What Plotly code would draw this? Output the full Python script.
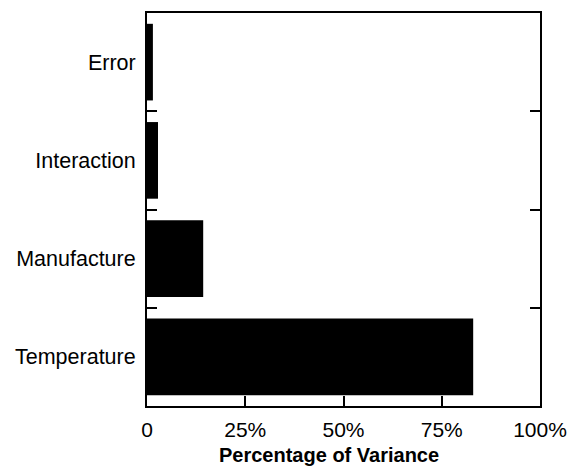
import plotly.graph_objects as go

categories = ["Temperature", "Manufacture", "Interaction", "Error"]
values = [83, 14.3, 2.8, 1.5]
x_tick_vals = [0, 25, 50, 75, 100]
x_tick_text = ["0", "25%", "50%", "75%", "100%"]
x_title = "Percentage of Variance"

fig = go.Figure(go.Bar(
    x=values, y=categories, orientation="h",
    marker=dict(color="black", line=dict(width=0)),
    width=0.78,
))

font_family = "Liberation Sans, Arial, sans-serif"
fig.update_layout(
    width=567, height=466,
    margin=dict(l=147, r=27, t=13, b=60),
    paper_bgcolor="white", plot_bgcolor="white",
    showlegend=False,
    font=dict(family=font_family, size=21, color="black"),
    xaxis=dict(
        range=[0, 100], tickvals=x_tick_vals, ticktext=x_tick_text,
        ticks="inside", ticklen=10, tickwidth=2, tickcolor="black",
        showline=True, linewidth=2, linecolor="black", mirror=True,
        showgrid=False, zeroline=False, automargin=False,
        tickfont=dict(size=21),
        ticklabelstandoff=4,
    ),
    yaxis=dict(
        categoryorder="array", categoryarray=categories,
        range=[-0.5, 3.5],
        ticks="inside", ticklen=10, tickwidth=2, tickcolor="black",
        tickson="boundaries",
        showline=True, linewidth=2, linecolor="black", mirror="ticks",
        showgrid=False, zeroline=False, automargin=False,
        tickfont=dict(size=21.5),
        ticklabelstandoff=5,
    ),
    annotations=[dict(
        text="<b>" + x_title + "</b>", xref="paper", yref="paper",
        x=0.464, y=-0.125, xanchor="center", yanchor="middle",
        showarrow=False, font=dict(size=20, color="black"),
    )],
)

fig.write_html("out.html")
